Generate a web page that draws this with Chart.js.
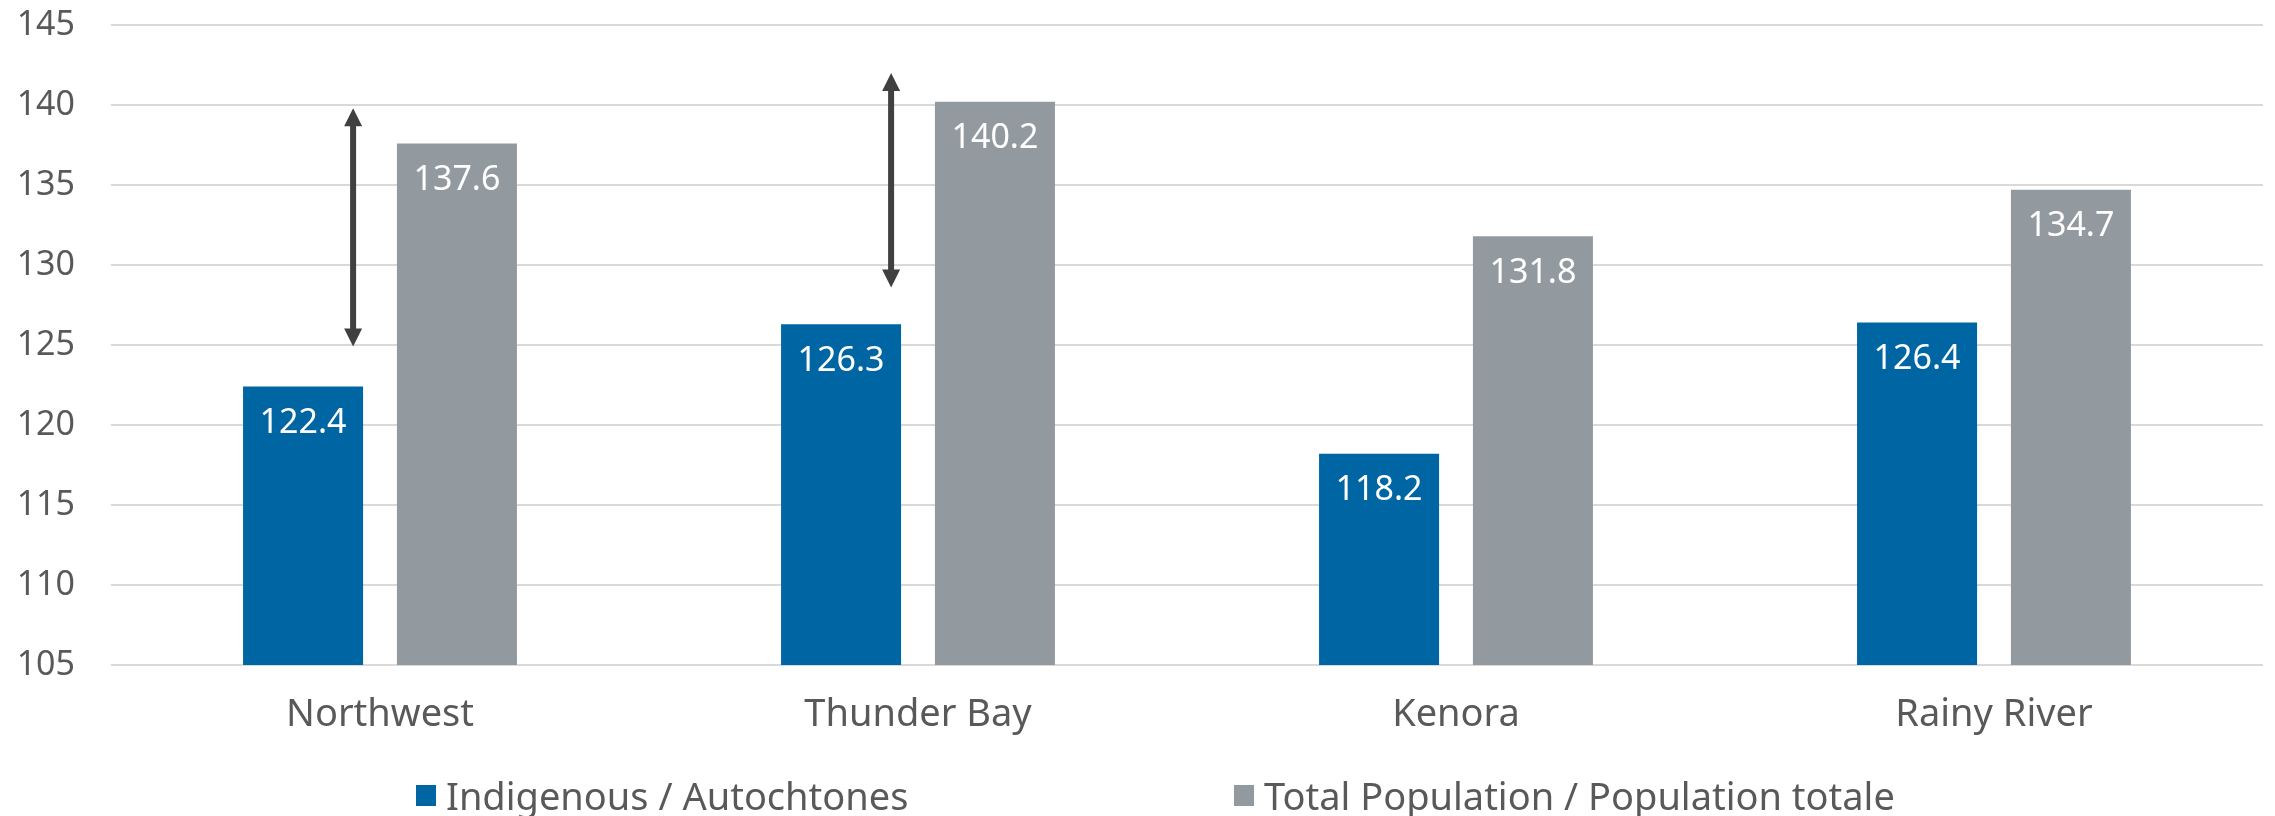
<!DOCTYPE html>
<html>
<head>
<meta charset="utf-8">
<script src="https://cdn.jsdelivr.net/npm/chart.js@4"></script>
<style>
  html, body { margin: 0; padding: 0; background: #fff; }
  #wrap { position: relative; width: 2275px; height: 816px; }
  #legend { position: absolute; top: 773px; left: 0; width: 2275px; height: 44px;
            font-family: "Noto Sans", sans-serif; font-size: 38px; color: #595959; }
  .item { position: absolute; top: 0; display: flex; align-items: center; height: 44px; white-space: nowrap; }
  .box { width: 20px; height: 21px; margin-right: 10px; }
</style>
</head>
<body>
<div id="wrap">
  <canvas id="chart" width="2275" height="816"></canvas>
  <div id="legend"></div>
</div>
<script>
// regions and values
const regions = ['Northwest', 'Thunder Bay', 'Kenora', 'Rainy River'];
const indigenous = [122.4, 126.3, 118.2, 126.4];
const totalPop = [137.6, 140.2, 131.8, 134.7];
const seriesNames = ['Indigenous / Autochtones', 'Total Population / Population totale'];
const yTicks = [105, 110, 115, 120, 125, 130, 135, 140, 145];

// gap arrows (category index, from value, to value)
const arrowRegion = [0, 1];
const arrowFrom = [124.9, 128.6];
const arrowTo = [139.8, 142.0];

const BLUE = '#0065a3';
const GREY = '#939a9f';
const TEXT = '#595959';
const FONT = '"Noto Sans", sans-serif';

// white value labels near the top of each bar
const barLabels = {
    id: 'barLabels',
    afterDatasetsDraw(chart) {
        const ctx = chart.ctx;
        ctx.save();
        ctx.fillStyle = '#ffffff';
        ctx.font = '34px ' + FONT;
        ctx.textAlign = 'center';
        ctx.textBaseline = 'middle';
        chart.data.datasets.forEach((ds, i) => {
            chart.getDatasetMeta(i).data.forEach((bar, j) => {
                ctx.fillText(ds.data[j].toFixed(1), bar.x, bar.y + 37);
            });
        });
        ctx.restore();
    }
};

// double-headed arrows showing the gap
const gapArrows = {
    id: 'gapArrows',
    afterDatasetsDraw(chart, args, opts) {
        const ctx = chart.ctx;
        const xs = chart.scales.x, ys = chart.scales.y;
        ctx.save();
        ctx.strokeStyle = '#404040';
        ctx.fillStyle = '#404040';
        ctx.lineWidth = 6;
        arrowRegion.forEach((r, i) => {
            const x = xs.getPixelForValue(r + opts.offset);
            const yTop = ys.getPixelForValue(arrowTo[i]);
            const yBot = ys.getPixelForValue(arrowFrom[i]);
            const hw = 9, hl = 18;
            ctx.beginPath();
            ctx.moveTo(x, yTop + hl - 2);
            ctx.lineTo(x, yBot - hl + 2);
            ctx.stroke();
            ctx.beginPath();
            ctx.moveTo(x, yTop);
            ctx.lineTo(x - hw, yTop + hl);
            ctx.lineTo(x + hw, yTop + hl);
            ctx.closePath();
            ctx.fill();
            ctx.beginPath();
            ctx.moveTo(x, yBot);
            ctx.lineTo(x - hw, yBot - hl);
            ctx.lineTo(x + hw, yBot - hl);
            ctx.closePath();
            ctx.fill();
        });
        ctx.restore();
    }
};

const chart = new Chart(document.getElementById('chart'), {
    type: 'bar',
    data: {
        labels: regions,
        datasets: [{
            label: seriesNames[0],
            data: indigenous,
            backgroundColor: BLUE,
            categoryPercentage: 0.572,
            barPercentage: 0.78
        },
        {
            label: seriesNames[1],
            data: totalPop,
            backgroundColor: GREY,
            categoryPercentage: 0.572,
            barPercentage: 0.78
        }]
    },
    options: {
        responsive: false,
        animation: false,
        layout: { padding: { top: 25, right: 12, bottom: 41, left: 20 } },
        plugins: {
            legend: { display: false },
            tooltip: { enabled: false },
            gapArrows: { offset: -0.05 }
        },
        scales: {
            x: {
                grid: { display: false },
                border: { display: false },
                afterFit(scale) { scale.height = 110; },
                ticks: { color: TEXT, font: { family: FONT, size: 38 }, padding: 19 }
            },
            y: {
                min: 105,
                max: 145,
                afterFit(scale) {
                    scale.width = 91;
                    scale.paddingTop = 0;
                    scale.paddingBottom = 0;
                },
                afterBuildTicks(scale) { scale.ticks = yTicks.map(v => ({ value: v })); },
                grid: { color: '#d9d9d9', lineWidth: 2, drawTicks: false },
                border: { display: false },
                ticks: { color: TEXT, font: { family: FONT, size: 34 }, padding: 36 }
            }
        }
    },
    plugins: [barLabels, gapArrows]
});

// legend below the chart
const legendLeft = [416, 1234];
const legend = document.getElementById('legend');
chart.data.datasets.forEach((ds, i) => {
    const item = document.createElement('div');
    item.className = 'item';
    item.style.left = legendLeft[i] + 'px';
    item.innerHTML = '<span class="box" style="background:' + ds.backgroundColor + '"></span>' + ds.label;
    legend.appendChild(item);
});
</script>
</body>
</html>
